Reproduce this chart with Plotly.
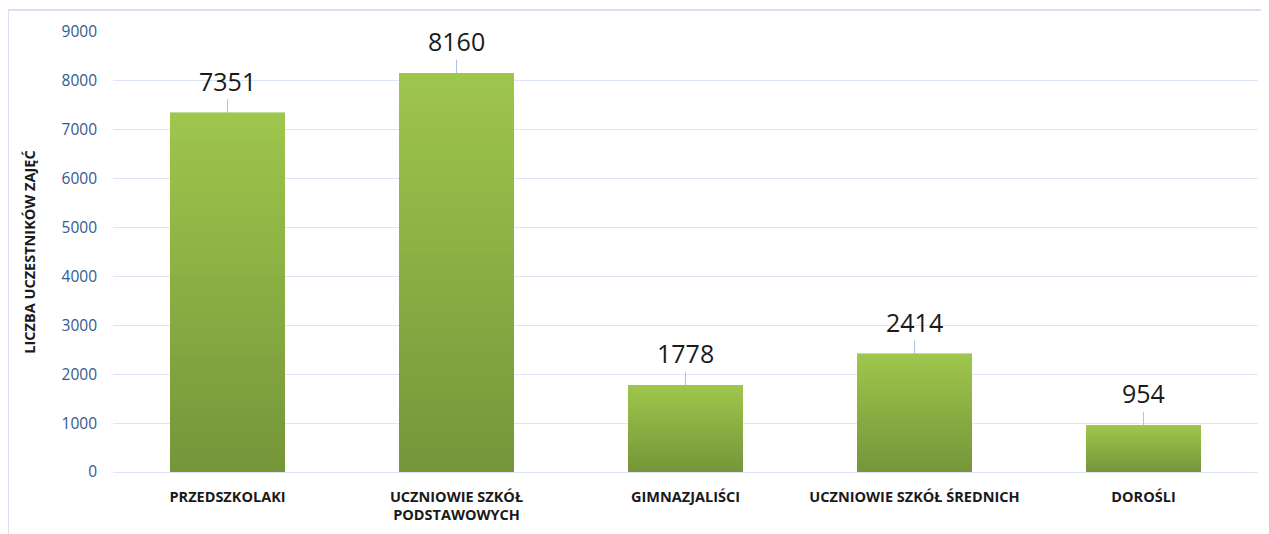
import plotly.graph_objects as go

categories = ["PRZEDSZKOLAKI", "UCZNIOWIE SZKÓŁ<br>PODSTAWOWYCH", "GIMNAZJALIŚCI",
              "UCZNIOWIE SZKÓŁ ŚREDNICH", "DOROŚLI"]
values = [7351, 8160, 1778, 2414, 954]
y_ticks = [0, 1000, 2000, 3000, 4000, 5000, 6000, 7000, 8000, 9000]
y_title = "LICZBA UCZESTNIKÓW ZAJĘĆ"

top_rgb = (158, 197, 76)
bot_rgb = (118, 150, 58)
N = 40

fig = go.Figure()
for i in range(N):
    t = i / (N - 1)
    c = tuple(round(bot_rgb[k] + (top_rgb[k] - bot_rgb[k]) * t) for k in range(3))
    fig.add_trace(go.Bar(
        x=categories, y=[v / N for v in values],
        marker=dict(color="rgb(%d,%d,%d)" % c, line=dict(width=0.6, color="rgb(%d,%d,%d)" % c)),
        width=0.5, hoverinfo="skip", showlegend=False,
    ))

for cat, v in zip(categories, values):
    fig.add_annotation(x=cat, y=v, text=str(v), showarrow=True, arrowhead=0,
                       arrowwidth=1, arrowcolor="#A9C4E4", ax=0, ay=-32, standoff=0,
                       font=dict(family="Open Sans", size=25, color="#1a1a1a"))

fig.add_shape(type="rect", xref="paper", yref="paper", x0=-0.0917, x1=1.05, y0=-0.3, y1=1.05,
              line=dict(color="#D6E0F0", width=2), fillcolor="rgba(0,0,0,0)", layer="below")

fig.update_layout(
    barmode="stack", bargap=0.5,
    width=1261, height=526,
    margin=dict(l=105, r=11, t=24, b=62, autoexpand=False),
    paper_bgcolor="white", plot_bgcolor="white",
    font=dict(family="Open Sans"),
    xaxis=dict(tickfont=dict(family="Open Sans", size=14.5, color="#1a1a1a", weight="bold"),
               showline=False, showgrid=False, ticks="", ticklabelstandoff=14, automargin=False),
    yaxis=dict(range=[0, 9000], tickvals=y_ticks, showgrid=True, gridcolor="#DCE6F4", gridwidth=1,
               zeroline=True, zerolinecolor="#DCE6F4", zerolinewidth=1,
               tickfont=dict(family="Open Sans", size=15.5, color="#34598F"),
               ticklabelstandoff=15, automargin=False,
               title=dict(text=y_title, font=dict(family="Open Sans", size=14.5, color="#1a1a1a", weight="bold"),
                          standoff=22)),
)
fig.write_html("out.html")
